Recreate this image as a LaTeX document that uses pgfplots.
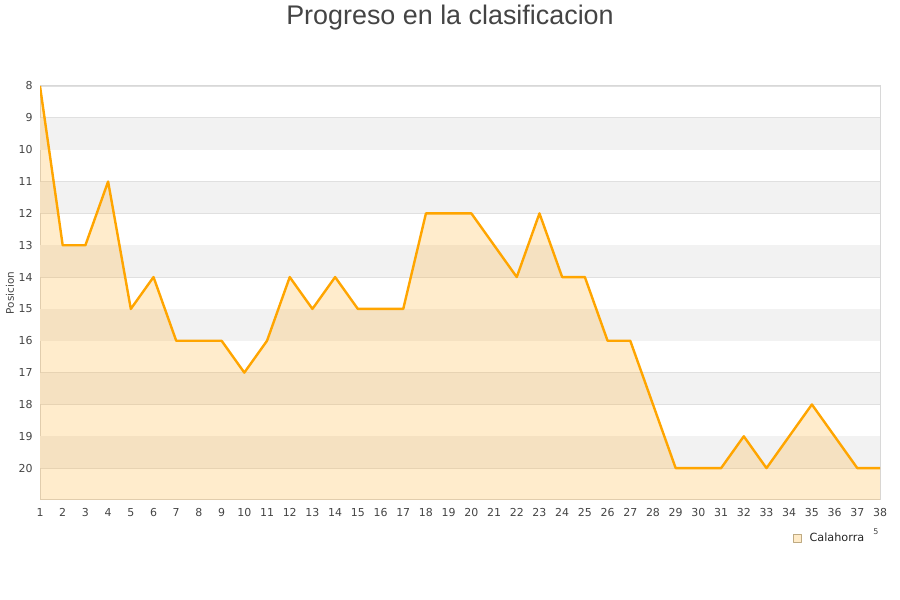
\documentclass[border=0pt]{standalone}
\usepackage{fontspec}
\setmainfont{DejaVu Sans}
\newfontfamily\titlefont{Liberation Sans}
\usepackage{pgfplots}
\pgfplotsset{compat=1.18}
\definecolor{txt}{RGB}{68,68,68}
\definecolor{framec}{RGB}{216,216,216}
\definecolor{gridc}{RGB}{224,224,224}
\definecolor{bandc}{RGB}{242,242,242}
\definecolor{linec}{RGB}{255,165,0}
\definecolor{fillc}{RGB}{255,172,33}
\definecolor{legfill}{RGB}{255,235,200}
\definecolor{legdraw}{RGB}{190,170,130}
\begin{document}
\begin{tikzpicture}
\path (0bp,0bp) rectangle (900bp,600bp);
\node[font=\titlefont\fontsize{27}{30}\selectfont, text=txt, anchor=base] at (450bp,575bp) {Progreso en la clasificacion};
\begin{axis}[
  at={(40bp,100bp)}, anchor=south west,
  scale only axis, width=840bp, height=414bp,
  set layers,
  xmin=1, xmax=38, ymin=8, ymax=21,
  y dir=reverse,
  xtick={1,...,38}, ytick={8,...,20},
  major tick length=0pt,
  axis line style={framec, line width=1bp},
  ymajorgrids, grid style={gridc, line width=0.8bp},
  tick label style={font=\fontsize{11}{13}\selectfont, text=txt},
  /pgf/number format/assume math mode=true,
  xticklabel style={yshift=-5bp},
  yticklabel style={xshift=-4bp},
  ylabel={Posicion},
  ylabel style={font=\fontsize{10.5}{12}\selectfont, text=txt, at={(axis description cs:-0.0357,0.5)}, anchor=center},
  legend style={at={(axis description cs:0.893,-0.0915)}, anchor=west, draw=none, fill=none,
    font=\fontsize{11.3}{13}\selectfont, text=black!85},
  legend cell align=left,
]
\fill[bandc, on layer=axis background] (axis cs:1,9) rectangle (axis cs:38,10);
\fill[bandc, on layer=axis background] (axis cs:1,11) rectangle (axis cs:38,12);
\fill[bandc, on layer=axis background] (axis cs:1,13) rectangle (axis cs:38,14);
\fill[bandc, on layer=axis background] (axis cs:1,15) rectangle (axis cs:38,16);
\fill[bandc, on layer=axis background] (axis cs:1,17) rectangle (axis cs:38,18);
\fill[bandc, on layer=axis background] (axis cs:1,19) rectangle (axis cs:38,20);
\addplot[draw=none, fill=fillc, fill opacity=0.23, forget plot] coordinates {
 (1,21) (1,8) (2,13) (3,13) (4,11) (5,15) (6,14) (7,16) (8,16) (9,16) (10,17)
 (11,16) (12,14) (13,15) (14,14) (15,15) (16,15) (17,15) (18,12) (19,12) (20,12)
 (21,13) (22,14) (23,12) (24,14) (25,14) (26,16) (27,16) (28,18) (29,20) (30,20)
 (31,20) (32,19) (33,20) (34,19) (35,18) (36,19) (37,20) (38,20) (38,21)};
\addplot[linec, line width=2.4bp, line join=round,
  legend image code/.code={\draw[draw=legdraw, fill=legfill, line width=0.6bp] (0pt,-4pt) rectangle (8pt,4pt); \path[draw=none, fill=none] (0pt,0pt) -- (14pt,0pt);}]
 coordinates {
 (1,8) (2,13) (3,13) (4,11) (5,15) (6,14) (7,16) (8,16) (9,16) (10,17)
 (11,16) (12,14) (13,15) (14,14) (15,15) (16,15) (17,15) (18,12) (19,12) (20,12)
 (21,13) (22,14) (23,12) (24,14) (25,14) (26,16) (27,16) (28,18) (29,20) (30,20)
 (31,20) (32,19) (33,20) (34,19) (35,18) (36,19) (37,20) (38,20)};
\addlegendentry{Calahorra}
\end{axis}
\node[font=\fontsize{8}{9}\selectfont, text=txt] at (876bp,68bp) {5};
\end{tikzpicture}
\end{document}
